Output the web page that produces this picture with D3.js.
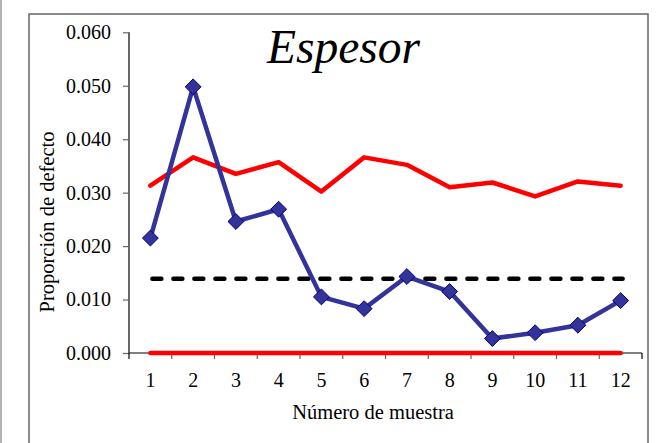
<!DOCTYPE html>
<html>
<head>
<meta charset="utf-8">
<script src="https://cdn.jsdelivr.net/npm/d3@7"></script>
<style>
  html, body { margin: 0; padding: 0; background: #fff; }
  svg text { font-family: "Liberation Serif", "Times New Roman", serif; fill: #000; }
</style>
</head>
<body>
<svg id="chart" width="657" height="443"></svg>
<script>
// --- data ---
const muestras = [1, 2, 3, 4, 5, 6, 7, 8, 9, 10, 11, 12];
const proporcion = [0.0215, 0.0498, 0.0246, 0.0269, 0.0105, 0.0083, 0.0143, 0.0115, 0.0027, 0.0038, 0.0052, 0.0098];
const lsc = [0.0313, 0.0366, 0.0335, 0.0357, 0.0302, 0.0366, 0.0352, 0.0310, 0.0319, 0.0293, 0.0321, 0.0313];
const lic = [0, 0, 0, 0, 0, 0, 0, 0, 0, 0, 0, 0];
const lineaCentral = [0.0139, 0.0139, 0.0139, 0.0139, 0.0139, 0.0139, 0.0139, 0.0139, 0.0139, 0.0139, 0.0139, 0.0139];
const yTicks = [0, 0.01, 0.02, 0.03, 0.04, 0.05, 0.06];

const svg = d3.select("#chart");

// outer frames
svg.append("line").attr("x1", 1).attr("x2", 1).attr("y1", 0).attr("y2", 443)
    .attr("stroke", "#999").attr("stroke-width", 1.5);
svg.append("rect").attr("x", 29).attr("y", 14).attr("width", 619).attr("height", 440)
    .attr("fill", "#fff").attr("stroke", "#666").attr("stroke-width", 1.5);

const plotL = 129, plotR = 642, plotT = 32.3, plotB = 353;

const x = d3.scaleBand().domain(muestras).range([plotL, plotR]);
const cx = d => x(d) + x.bandwidth() / 2;
const y = d3.scaleLinear().domain([0, 0.06]).range([plotB, plotT]);

// y axis
const yAxis = svg.append("g").attr("transform", `translate(${plotL},0)`)
    .call(d3.axisLeft(y).tickValues(yTicks).tickFormat(d3.format(".3f")).tickSize(6).tickPadding(12));
yAxis.select(".domain").attr("stroke", "#000").attr("stroke-width", 1.2).attr("d", `M0,${plotT}V${plotB}`);
yAxis.selectAll(".tick line").attr("stroke", "#666").attr("stroke-width", 1.2);
yAxis.selectAll("text").style("font-size", "20px").attr("font-family", null);

// x axis - ticks sit on band boundaries
const xAxis = svg.append("g").attr("transform", `translate(0,${plotB})`);
xAxis.append("line").attr("x1", plotL).attr("x2", plotR).attr("stroke", "#000").attr("stroke-width", 1.2);
const bounds = muestras.map(d => x(d)).concat([plotR]);
xAxis.selectAll(".bt").data(bounds).enter().append("line")
    .attr("x1", d => d).attr("x2", d => d).attr("y1", 0).attr("y2", 6)
    .attr("stroke", (d, i) => (i === 0 || i === bounds.length - 1) ? "#000" : "#666").attr("stroke-width", 1.2);
xAxis.selectAll(".xl").data(muestras).enter().append("text")
    .attr("x", d => cx(d)).attr("y", 34).attr("text-anchor", "middle")
    .style("font-size", "20px").text(d => d);

// axis titles
svg.append("text").attr("x", 373).attr("y", 419).attr("text-anchor", "middle")
    .style("font-size", "20.5px").text("Número de muestra");
svg.append("text").attr("transform", "translate(54,222) rotate(-90)").attr("text-anchor", "middle")
    .style("font-size", "20.5px").text("Proporción de defecto");

// title
svg.append("text").attr("x", 267).attr("y", 63)
    .style("font-size", "47.5px").style("font-style", "italic")
    .text("Espesor");

const line = d3.line().x((d, i) => cx(muestras[i])).y(d => y(d));

// limits
svg.append("path").datum(lic).attr("d", line).attr("fill", "none")
    .attr("stroke", "#ff0000").attr("stroke-width", 4.5).attr("stroke-linecap", "round");
svg.append("path").datum(lsc).attr("d", line).attr("fill", "none")
    .attr("stroke", "#ff0000").attr("stroke-width", 4.5).attr("stroke-linejoin", "round").attr("stroke-linecap", "round");
svg.append("path").datum(lineaCentral).attr("d", line).attr("fill", "none")
    .attr("stroke", "#000").attr("stroke-width", 4.5).attr("stroke-dasharray", "9 12")
    .attr("stroke-linecap", "round").attr("transform", "translate(2,0)");

// proportion series
svg.append("path").datum(proporcion).attr("d", line).attr("fill", "none")
    .attr("stroke", "#333399").attr("stroke-width", 4.5).attr("stroke-linejoin", "round");
svg.selectAll(".pt").data(proporcion).enter().append("path")
    .attr("d", d3.symbol().type(d3.symbolDiamond2).size(160))
    .attr("transform", (d, i) => `translate(${cx(muestras[i])},${y(d)})`)
    .attr("fill", "#333399").attr("stroke", "#000080").attr("stroke-width", 1);
</script>
</body>
</html>
